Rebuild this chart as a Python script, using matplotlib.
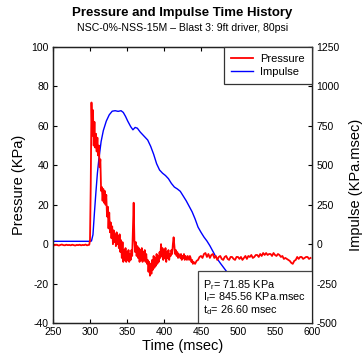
"""
Pressure and impulse time history plot for blast test.
"""

# Imports
import matplotlib
matplotlib.use("Agg")
import matplotlib.pyplot as plt
from matplotlib.patches import Rectangle
import numpy as np

plt.rcParams['font.family'] = ['Liberation Sans', 'DejaVu Sans']
plt.rcParams['mathtext.fontset'] = 'custom'
plt.rcParams['mathtext.rm'] = 'Liberation Sans'
plt.rcParams['mathtext.it'] = 'Liberation Sans'
plt.rcParams['axes.unicode_minus'] = False

# ----------------------------------------------------------------------------------------------------------------------
# Data

# Pressure before arrival, every 2 msec from 250
pressStartA = 250
pressA = [-0.4, -0.6, -0.3, -0.5, -0.7, -0.4, -0.2, -0.5, -0.6, -0.3, -0.5, -0.4, -0.6, -0.3, -0.5, -0.7, -0.4,
          -0.5, -0.3, -0.6, -0.4, -0.5, -0.2, -0.6, -0.4]

# Pressure around the blast, every 1 msec from 299
pressStartB = 299
pressB = [-0.3, 2, 30, 71.85, 55, 68, 50, 62, 49, 56, 47, 54, 45, 50, 39, 43, 27, 29, 22, 28, 21, 27, 20, 25, 14, 19,
          8, 16, 6, 11, 3, 9, 0, 7, 1, 5, -1, 6, 0, 4, -2, 5, -4, 2, -7, 1, -9, -3, -8, -2, -9, -4, -8, -3, -9, -5,
          -8, -3, -6, 8, 21, 2, -4, 1, -6, -1, -7, -2, -9, -3, -8, -2, -9, -4, -8, -3, -9, -5, -10, -8, -14, -9, -16,
          -10, -15, -8, -13, -6, -12, -7, -11, -5, -10, -6, -9, -4, -7, 0, -6, -2, -8, -3, -7, -2, -9, -4, -7, -3,
          -8, -5, -6, -3, -5, 0, 3.5, -1, -5, -3, -6, -4, -7, -5, -6, -7, -5, -8, -6, -7, -5, -8, -6, -7, -8, -6,
          -7, -8, -6, -7, -9, -8, -10, -9]

# Pressure tail, every 2 msec
pressStartC = pressStartB + len(pressB) + 1
pressC = [-10, -8.5, -8, -6.5, -6, -7, -5, -4.5, -6.5, -5, -7, -5.5, -5, -7, -6, -8, -6.5, -6, -7.5, -8, -6.5, -6,
          -7.5, -8, -6.5, -6.5, -7.5, -8, -6.5, -6.5, -7.5, -6.5, -8, -7, -6, -7.5, -6, -6.5, -5.5, -7, -6.5, -5.5,
          -5.5, -6.5, -5, -6, -4.5, -5.5, -4.5, -5.5, -5, -5, -6, -4.5, -5.5, -6, -5, -5.5, -6.5, -6, -7.5, -7,
          -7.5, -8, -8.5, -9.5, -10, -8.5, -8, -6.5, -7.5, -6.5, -6.5, -7.5, -7, -6.5, -6.5, -7.5, -7]

# Impulse curve
impulseTime = [250, 300, 302, 304, 306, 308, 310, 312, 315, 318, 322, 326, 330, 334, 338, 342, 345, 348, 351, 355,
               358, 361, 364, 368, 372, 378, 382, 386, 390, 394, 398, 402, 406, 410, 414, 418, 422, 426, 430, 434,
               438, 442, 446, 450, 454, 458, 462, 466, 470, 476, 480, 484, 490, 500, 510, 520, 525]
impulse = [18, 18, 20, 60, 200, 330, 450, 540, 650, 720, 780, 820, 843, 846, 842, 846, 835, 810, 780, 745,
           725, 740, 735, 710, 690, 660, 620, 570, 510, 470, 450, 435, 415, 385, 362, 350, 335, 305, 275, 240,
           205, 160, 108, 75, 45, 20, -10, -45, -80, -120, -145, -170, -215, -290, -365, -440, -480]

infoLines = [r"P$_\mathrm{r}$= 71.85 KPa", r"I$_\mathrm{r}$= 845.56 KPa.msec", r"t$_\mathrm{d}$= 26.60 msec"]

# ----------------------------------------------------------------------------------------------------------------------

timeA = pressStartA + 2 * np.arange(len(pressA))
timeB = pressStartB + np.arange(len(pressB))
timeC = pressStartC + 2 * np.arange(len(pressC))
pressTime = np.concatenate([timeA, timeB, timeC])
pressure = np.concatenate([pressA, pressB, pressC])

fig = plt.figure(figsize=(3.62, 3.6), dpi=100)
ax = fig.add_axes([53 / 362, 37 / 360, 259 / 362, 276 / 360])
ax2 = ax.twinx()

# Impulse below pressure
ax.set_zorder(ax2.get_zorder() + 1)
ax.patch.set_visible(False)

lineI, = ax2.plot(impulseTime, impulse, color='#0000ff', lw=1.0, label='Impulse')
lineP, = ax.plot(pressTime, pressure, color='#ff0000', lw=1.3, label='Pressure')

ax.set_xlim(250, 600)
ax.set_ylim(-40, 100)
ax2.set_ylim(-500, 1250)
ax.set_xticks(np.arange(250, 601, 50))
ax.set_yticks(np.arange(-40, 101, 20))
ax2.set_yticks(np.arange(-500, 1251, 250))

ax.tick_params(direction='in', labelsize=7.5, length=3, top=True, right=False, pad=3)
ax2.tick_params(direction='in', labelsize=7.5, length=3, pad=3)

for a in (ax, ax2):
    for s in a.spines.values():
        s.set_linewidth(0.9)
        s.set_color('#222222')

ax.set_xlabel('Time (msec)', fontsize=10.5, labelpad=1)
ax.set_ylabel('Pressure (KPa)', fontsize=10.5, labelpad=4)
ax2.set_ylabel('Impulse (KPa.msec)', fontsize=10.5, labelpad=7)

fig.text(0.503, 0.963, 'Pressure and Impulse Time History', ha='center', va='center', fontsize=9.5,
         fontweight='bold')
fig.text(0.503, 0.923, 'NSC-0%-NSS-15M \u2013 Blast 3: 9ft driver, 80psi', ha='center', va='center', fontsize=7.6)

leg = ax.legend([lineP, lineI], ['Pressure', 'Impulse'], loc='upper right', fontsize=8, fancybox=False,
                borderaxespad=0, handlelength=2.0, handletextpad=0.6, framealpha=1, edgecolor='#333333',
                borderpad=0.65, labelspacing=0.25)
leg.get_frame().set_linewidth(0.9)
leg.set_zorder(10)

# Result box in the lower right corner
ax.add_patch(Rectangle((0.56, 0.0), 0.44, 0.188, transform=ax.transAxes, facecolor='white', edgecolor='#444444',
                       linewidth=0.9, zorder=9))
for i, line in enumerate(infoLines):
    ax.text(0.58, 0.138 - i * 0.045, line, transform=ax.transAxes, ha='left', va='center', fontsize=7.8,
            zorder=11)

fig.savefig('out.png', dpi=100)
